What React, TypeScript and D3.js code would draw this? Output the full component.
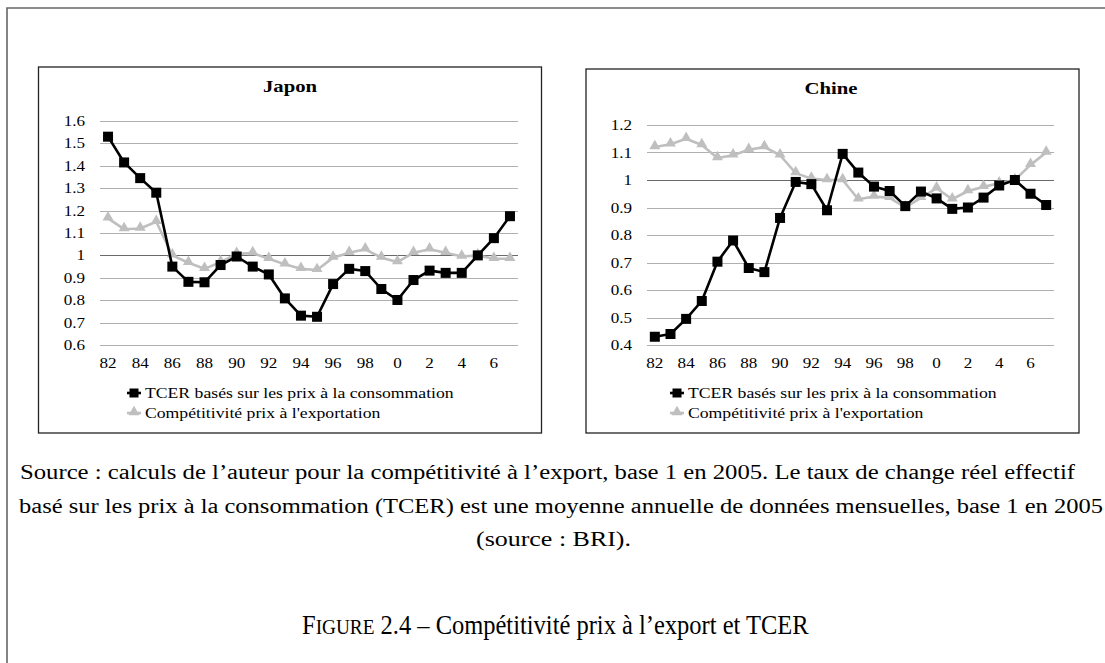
import React from 'react';
import * as d3 from 'd3';

const years = [1982, 1983, 1984, 1985, 1986, 1987, 1988, 1989, 1990, 1991, 1992, 1993, 1994, 1995, 1996, 1997, 1998, 1999, 2000, 2001, 2002, 2003, 2004, 2005, 2006, 2007];
const xTickYears = [1982, 1984, 1986, 1988, 1990, 1992, 1994, 1996, 1998, 2000, 2002, 2004, 2006];
const xTickLabels = ['82', '84', '86', '88', '90', '92', '94', '96', '98', '0', '2', '4', '6'];

const japonTCER = [1.53, 1.415, 1.345, 1.28, 0.95, 0.882, 0.88, 0.957, 0.995, 0.95, 0.915, 0.808, 0.731, 0.726, 0.872, 0.94, 0.93, 0.85, 0.801, 0.89, 0.932, 0.922, 0.922, 1.0, 1.077, 1.175];
const japonExport = [1.165, 1.117, 1.12, 1.15, 1.0, 0.967, 0.94, 0.97, 1.007, 1.01, 0.985, 0.96, 0.94, 0.935, 0.99, 1.012, 1.027, 0.99, 0.97, 1.012, 1.027, 1.012, 0.995, 1.0, 0.985, 0.985];
const chineTCER = [0.43, 0.44, 0.495, 0.56, 0.703, 0.78, 0.68, 0.665, 0.862, 0.993, 0.985, 0.89, 1.095, 1.027, 0.976, 0.96, 0.905, 0.958, 0.933, 0.895, 0.9, 0.936, 0.98, 1.0, 0.95, 0.909];
const chineExport = [1.12, 1.13, 1.15, 1.127, 1.08, 1.09, 1.11, 1.12, 1.09, 1.025, 1.005, 1.0, 1.0, 0.93, 0.94, 0.935, 0.9, 0.935, 0.97, 0.93, 0.96, 0.975, 0.988, 1.0, 1.055, 1.1];

const japonYTicks = [0.6, 0.7, 0.8, 0.9, 1.0, 1.1, 1.2, 1.3, 1.4, 1.5, 1.6];
const chineYTicks = [0.4, 0.5, 0.6, 0.7, 0.8, 0.9, 1.0, 1.1, 1.2];

const legendLabels = ['TCER basés sur les prix à la consommation', "Compétitivité prix à l'exportation"];
const captionLines = [
  'Source : calculs de l\u2019auteur pour la compétitivité à l\u2019export, base 1 en 2005. Le taux de change réel effectif',
  'basé sur les prix à la consommation (TCER) est une moyenne annuelle de données mensuelles, base 1 en 2005',
  '(source : BRI).',
];
const figureLabel = 'Figure 2.4';
const figureTitle = ' – Compétitivité prix à l\u2019export et TCER';

const SX = 1.22;
const FONT = '"Liberation Serif", serif';
const GRAY = '#bfbfbf';

function ST({ x, y, size, anchor = 'start', weight = 'normal', children }: any) {
  return (
    <text
      transform={`translate(${x},${y}) scale(${SX},1)`}
      fontFamily={FONT}
      fontSize={size}
      fontWeight={weight}
      textAnchor={anchor}
      fill="#000"
    >
      {children}
    </text>
  );
}

function Panel({ title, tcer, exp, yDomain, yTicks, box, plot, legend }: any) {
  const x = d3.scaleBand<number>().domain(years).range([plot.x0, plot.x1]).padding(0);
  const cx = (yr: number) => (x(yr) as number) + x.bandwidth() / 2;
  const y = d3.scaleLinear().domain(yDomain).range([plot.yBottom, plot.yTop]);
  const line = d3.line<number>().x((_, i) => cx(years[i])).y((d) => y(d));
  const tri = d3.symbol().type(d3.symbolTriangle).size(52)();
  const sq = 10;
  return (
    <g>
      <rect x={box.x0} y={box.y0} width={box.x1 - box.x0} height={box.y1 - box.y0} fill="#fff" stroke="#222" strokeWidth={1.3} />
      <ST x={box.title} y={box.titleY} size={17} anchor="middle" weight="bold">{title}</ST>
      {yTicks.map((t: number) => (
        <line key={'g' + t} x1={plot.x0} x2={plot.x1} y1={Math.round(y(t)) + 0.5} y2={Math.round(y(t)) + 0.5}
          stroke={Math.abs(t - 1) < 1e-9 ? '#6a6a6a' : '#b0b0b0'} strokeWidth={1.2} />
      ))}
      {yTicks.map((t: number) => (
        <ST key={'l' + t} x={plot.x0 - 15} y={y(t) + 5} size={14} anchor="end">{String(+t.toFixed(1))}</ST>
      ))}
      {xTickYears.map((yr, i) => (
        <ST key={'x' + yr} x={cx(yr)} y={plot.yBottom + 23} size={14} anchor="middle">{xTickLabels[i]}</ST>
      ))}
      <path d={line(exp) as string} fill="none" stroke={GRAY} strokeWidth={2.6} strokeLinejoin="round" />
      {exp.map((v: number, i: number) => (
        <path key={'t' + i} d={tri as string} transform={`translate(${cx(years[i])},${y(v) - 1})`} fill={GRAY} />
      ))}
      <path d={line(tcer) as string} fill="none" stroke="#000" strokeWidth={2.6} strokeLinejoin="round" />
      {tcer.map((v: number, i: number) => (
        <rect key={'s' + i} x={cx(years[i]) - sq / 2} y={y(v) - sq / 2} width={sq} height={sq} fill="#000" />
      ))}
      <line x1={legend.mx - 7} x2={legend.mx + 7} y1={legend.y1} y2={legend.y1} stroke="#000" strokeWidth={2.6} />
      <rect x={legend.mx - 4.5} y={legend.y1 - 4.5} width={9} height={9} fill="#000" />
      <ST x={legend.tx} y={legend.y1 + 5} size={14.5}>{legendLabels[0]}</ST>
      <line x1={legend.mx - 7} x2={legend.mx + 7} y1={legend.y2} y2={legend.y2} stroke={GRAY} strokeWidth={2.6} />
      <path d={tri as string} transform={`translate(${legend.mx},${legend.y2 - 1})`} fill={GRAY} />
      <ST x={legend.tx} y={legend.y2 + 5} size={14.5}>{legendLabels[1]}</ST>
    </g>
  );
}

export default function App() {
  const cap = '"Liberation Serif", serif';
  return (
    <svg width={1105} height={663} style={{ position: 'absolute', left: 0, top: 0, background: '#fff' }}>
      <rect x={0} y={0} width={1105} height={663} fill="#fff" />
      <path d="M7,663 L7,8 L1105,8" fill="none" stroke="#666" strokeWidth={1.6} />
      <Panel
        title="Japon"
        tcer={japonTCER}
        exp={japonExport}
        yDomain={[0.6, 1.6]}
        yTicks={japonYTicks}
        box={{ x0: 38.5, y0: 67, x1: 541.5, y1: 433, title: 290, titleY: 92 }}
        plot={{ x0: 100, x1: 518, yTop: 121, yBottom: 345 }}
        legend={{ mx: 134, tx: 145, y1: 393, y2: 413 }}
      />
      <Panel
        title="Chine"
        tcer={chineTCER}
        exp={chineExport}
        yDomain={[0.4, 1.2]}
        yTicks={chineYTicks}
        box={{ x0: 586, y0: 69, x1: 1079, y1: 433, title: 831, titleY: 94 }}
        plot={{ x0: 647, x1: 1054, yTop: 125, yBottom: 345 }}
        legend={{ mx: 677, tx: 688, y1: 393, y2: 413 }}
      />
      <text x={20} y={479} fontFamily={cap} fontSize={20} textLength={1055} lengthAdjust="spacingAndGlyphs">{captionLines[0]}</text>
      <text x={19} y={513} fontFamily={cap} fontSize={20} textLength={1084} lengthAdjust="spacingAndGlyphs">{captionLines[1]}</text>
      <text x={476} y={546} fontFamily={cap} fontSize={20} textLength={155} lengthAdjust="spacingAndGlyphs">{captionLines[2]}</text>
      <text transform="translate(302,634) scale(0.875,1)" fontFamily={cap} fontSize={28}>
        {figureLabel.slice(0, 1)}
        <tspan fontSize={22}>{figureLabel.slice(1, 6).toUpperCase()}</tspan>
        {figureLabel.slice(6) + figureTitle}
      </text>
    </svg>
  );
}
